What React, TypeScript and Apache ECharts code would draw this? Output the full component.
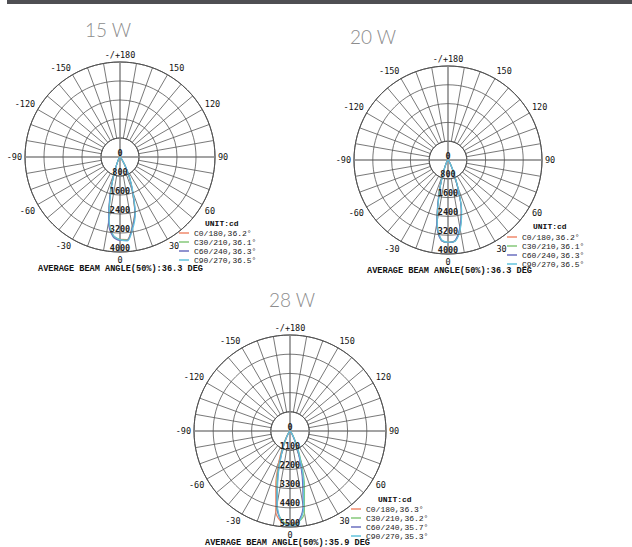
import React, { useEffect, useRef } from 'react';
import * as echarts from 'echarts';

// Vertical angle (gamma) sampled for every C-plane curve, degrees
const GAMMA = [-90, -60, -45, -35, -30, -25, -20, -15, -10, -5, 0, 5, 10, 15, 20, 25, 30, 35, 45, 60, 90];

// 15 W luminous intensity, cd
const C0_15 = [0, 15, 40, 85, 145, 290, 710, 1560, 2700, 3320, 3470, 3490, 2970, 2400, 1520, 920, 430, 175, 60, 20, 0];
const C30_15 = [0, 15, 40, 85, 145, 295, 720, 1570, 2720, 3330, 3480, 3500, 2980, 2420, 1530, 930, 440, 180, 60, 20, 0];
const C60_15 = [0, 15, 40, 90, 150, 300, 740, 1620, 2780, 3370, 3510, 3520, 3000, 2440, 1540, 940, 450, 180, 60, 20, 0];
const C90_15 = [0, 15, 35, 80, 130, 260, 680, 1500, 2650, 3300, 3480, 3550, 3080, 2500, 1620, 980, 470, 190, 60, 20, 0];

// 20 W luminous intensity, cd
const C0_20 = [0, 15, 35, 80, 140, 280, 650, 1450, 2700, 3400, 3500, 3450, 2950, 2200, 1150, 500, 220, 110, 45, 15, 0];
const C30_20 = [0, 15, 35, 80, 140, 285, 660, 1460, 2710, 3400, 3500, 3450, 2950, 2210, 1160, 505, 220, 110, 45, 15, 0];
const C60_20 = [0, 15, 35, 80, 145, 290, 680, 1500, 2750, 3420, 3510, 3440, 2920, 2180, 1130, 490, 215, 105, 45, 15, 0];
const C90_20 = [0, 15, 35, 75, 130, 260, 620, 1400, 2650, 3380, 3500, 3470, 3000, 2250, 1200, 520, 230, 110, 45, 15, 0];

// 28 W luminous intensity, cd
const C0_28 = [0, 30, 80, 200, 450, 1000, 1850, 3150, 4700, 5250, 5300, 5200, 4500, 2900, 1600, 850, 380, 180, 70, 25, 0];
const C30_28 = [0, 25, 70, 180, 380, 850, 1600, 2900, 4400, 5150, 5350, 5250, 4750, 3200, 1850, 1000, 450, 200, 80, 30, 0];
const C60_28 = [0, 20, 60, 150, 320, 750, 1500, 2700, 4300, 5250, 5400, 5250, 4300, 2700, 1500, 750, 320, 150, 60, 20, 0];
const C90_28 = [0, 20, 60, 140, 300, 700, 1400, 2600, 4200, 5250, 5450, 5300, 4500, 3000, 1700, 900, 400, 180, 70, 25, 0];

const TITLES = ['15 W', '20 W', '28 W'];
const RING_MAX = [4000, 4000, 5500];
const RING_STEP = [800, 800, 1100];
const LEGEND_15 = ['C0/180,36.2°', 'C30/210,36.1°', 'C60/240,36.3°', 'C90/270,36.5°'];
const LEGEND_20 = ['C0/180,36.2°', 'C30/210,36.1°', 'C60/240,36.3°', 'C90/270,36.5°'];
const LEGEND_28 = ['C0/180,36.3°', 'C30/210,36.2°', 'C60/240,35.7°', 'C90/270,35.3°'];
const BEAM = ['36.3', '36.3', '35.9'];
const UNIT = 'UNIT:cd';

const SERIES_VALUES = [
  [C0_15, C30_15, C60_15, C90_15],
  [C0_20, C30_20, C60_20, C90_20],
  [C0_28, C30_28, C60_28, C90_28],
];
const LEGENDS = [LEGEND_15, LEGEND_20, LEGEND_28];
const COLORS = ['#f08a6c', '#86c97a', '#6b6fbf', '#62c3dd'];

const PANELS = [
  { cx: 120, cy: 157, r: 95, title: [108, 29], legend: [179, 228.5], unit: [205, 223], avg: [38, 268.5] },
  { cx: 448, cy: 160, r: 94, title: [373, 36], legend: [507, 232.5], unit: [533, 226], avg: [367, 271] },
  { cx: 290, cy: 431, r: 96, title: [292, 299], legend: [351, 504.5], unit: [378, 499], avg: [205, 543] },
];

function buildOption() {
  const polar: any[] = [];
  const angleAxis: any[] = [];
  const radiusAxis: any[] = [];
  const series: any[] = [];
  const legend: any[] = [];
  const graphic: any[] = [
    { type: 'rect', shape: { x: 7, y: 0, width: 625, height: 4 }, style: { fill: '#4f4f53' } },
  ];

  PANELS.forEach((p, i) => {
    const dataPolar = polar.length;
    polar.push({ center: [p.cx, p.cy], radius: p.r });
    polar.push({ center: [p.cx, p.cy], radius: [p.r / 5, p.r] });

    // data polar: cross lines + rings + intensity labels
    angleAxis.push({
      polarIndex: dataPolar,
      type: 'value',
      min: 0,
      max: 360,
      interval: 90,
      startAngle: -90,
      clockwise: false,
      z: 1,
      axisLine: { show: false },
      axisTick: { show: false },
      axisLabel: { show: false },
      splitLine: { show: true, lineStyle: { color: '#a3a3a3', width: 2 } },
    });
    radiusAxis.push({
      polarIndex: dataPolar,
      type: 'value',
      min: 0,
      max: RING_MAX[i],
      interval: RING_STEP[i],
      z: 4,
      axisLine: { show: false },
      axisTick: { show: false },
      axisLabel: {
        margin: 0,
        align: 'center',
        verticalAlign: 'bottom',
        fontSize: 8.5,
        fontFamily: 'DejaVu Sans Mono',
        fontWeight: 'bold',
        color: '#222',
        formatter: (v: number) => String(v),
      },
      splitLine: { show: true, lineStyle: { color: '#555', width: 0.8 } },
    });

    // spoke polar: 10° spokes + angle labels
    angleAxis.push({
      polarIndex: dataPolar + 1,
      type: 'value',
      min: -180,
      max: 180,
      interval: 10,
      startAngle: 90,
      clockwise: false,
      z: 0,
      axisLine: { show: true, lineStyle: { color: '#444', width: 1 } },
      axisTick: { show: false },
      axisLabel: {
        margin: 3,
        fontSize: 8.5,
        fontFamily: 'DejaVu Sans Mono',
        color: '#111',
        formatter: (v: number) => {
          if (Math.abs(v) === 180) return '-/+180';
          return v % 30 === 0 ? String(v) : '';
        },
      },
      splitLine: { show: true, lineStyle: { color: '#555', width: 0.8 } },
    });
    radiusAxis.push({ polarIndex: dataPolar + 1, type: 'value', min: 0, max: 1, show: false });

    SERIES_VALUES[i].forEach((vals, k) => {
      series.push({
        type: 'line',
        name: LEGENDS[i][k],
        coordinateSystem: 'polar',
        polarIndex: dataPolar,
        data: GAMMA.map((g, j) => [vals[j], (g + 360) % 360]),
        smooth: 0.3,
        symbol: 'none',
        z: 3,
        lineStyle: { color: COLORS[k], width: 1.2 },
        itemStyle: { color: COLORS[k] },
      });
    });

    legend.push({
      data: LEGENDS[i],
      orient: 'vertical',
      left: p.legend[0],
      top: p.legend[1],
      padding: 0,
      itemGap: 0,
      itemWidth: 10,
      itemHeight: 1.5,
      icon: 'rect',
      selectedMode: false,
      textStyle: { fontFamily: 'Liberation Mono', fontSize: 8, color: '#222', lineHeight: 9 },
    });

    graphic.push({
      type: 'text',
      x: p.title[0],
      y: p.title[1],
      style: {
        text: TITLES[i],
        fontSize: 19,
        fontFamily: '"Lato Light", Lato',
        fontWeight: 300,
        fill: '#8c8c8c',
        align: 'center',
        verticalAlign: 'middle',
      },
    });
    graphic.push({
      type: 'text',
      x: p.unit[0],
      y: p.unit[1],
      style: {
        text: UNIT,
        fontSize: 8,
        fontFamily: 'Liberation Mono',
        fontWeight: 'bold',
        fill: '#111',
        align: 'left',
        verticalAlign: 'middle',
      },
    });
    graphic.push({
      type: 'text',
      x: p.avg[0],
      y: p.avg[1],
      style: {
        text: `AVERAGE BEAM ANGLE(50%):${BEAM[i]} DEG`,
        fontSize: 8.6,
        fontFamily: 'Liberation Mono',
        fontWeight: 'bold',
        fill: '#111',
        align: 'left',
        verticalAlign: 'middle',
      },
    });
  });

  return {
    animation: false,
    backgroundColor: '#ffffff',
    polar,
    angleAxis,
    radiusAxis,
    legend,
    series,
    graphic,
  };
}

export default function App() {
  const ref = useRef<HTMLDivElement>(null);
  useEffect(() => {
    if (!ref.current) return;
    const chart = echarts.init(ref.current, undefined, { renderer: 'svg' });
    chart.setOption(buildOption() as any);
    return () => chart.dispose();
  }, []);
  return (
    <div
      ref={ref}
      style={{ position: 'fixed', left: 0, top: 0, width: 632, height: 547 }}
    />
  );
}
